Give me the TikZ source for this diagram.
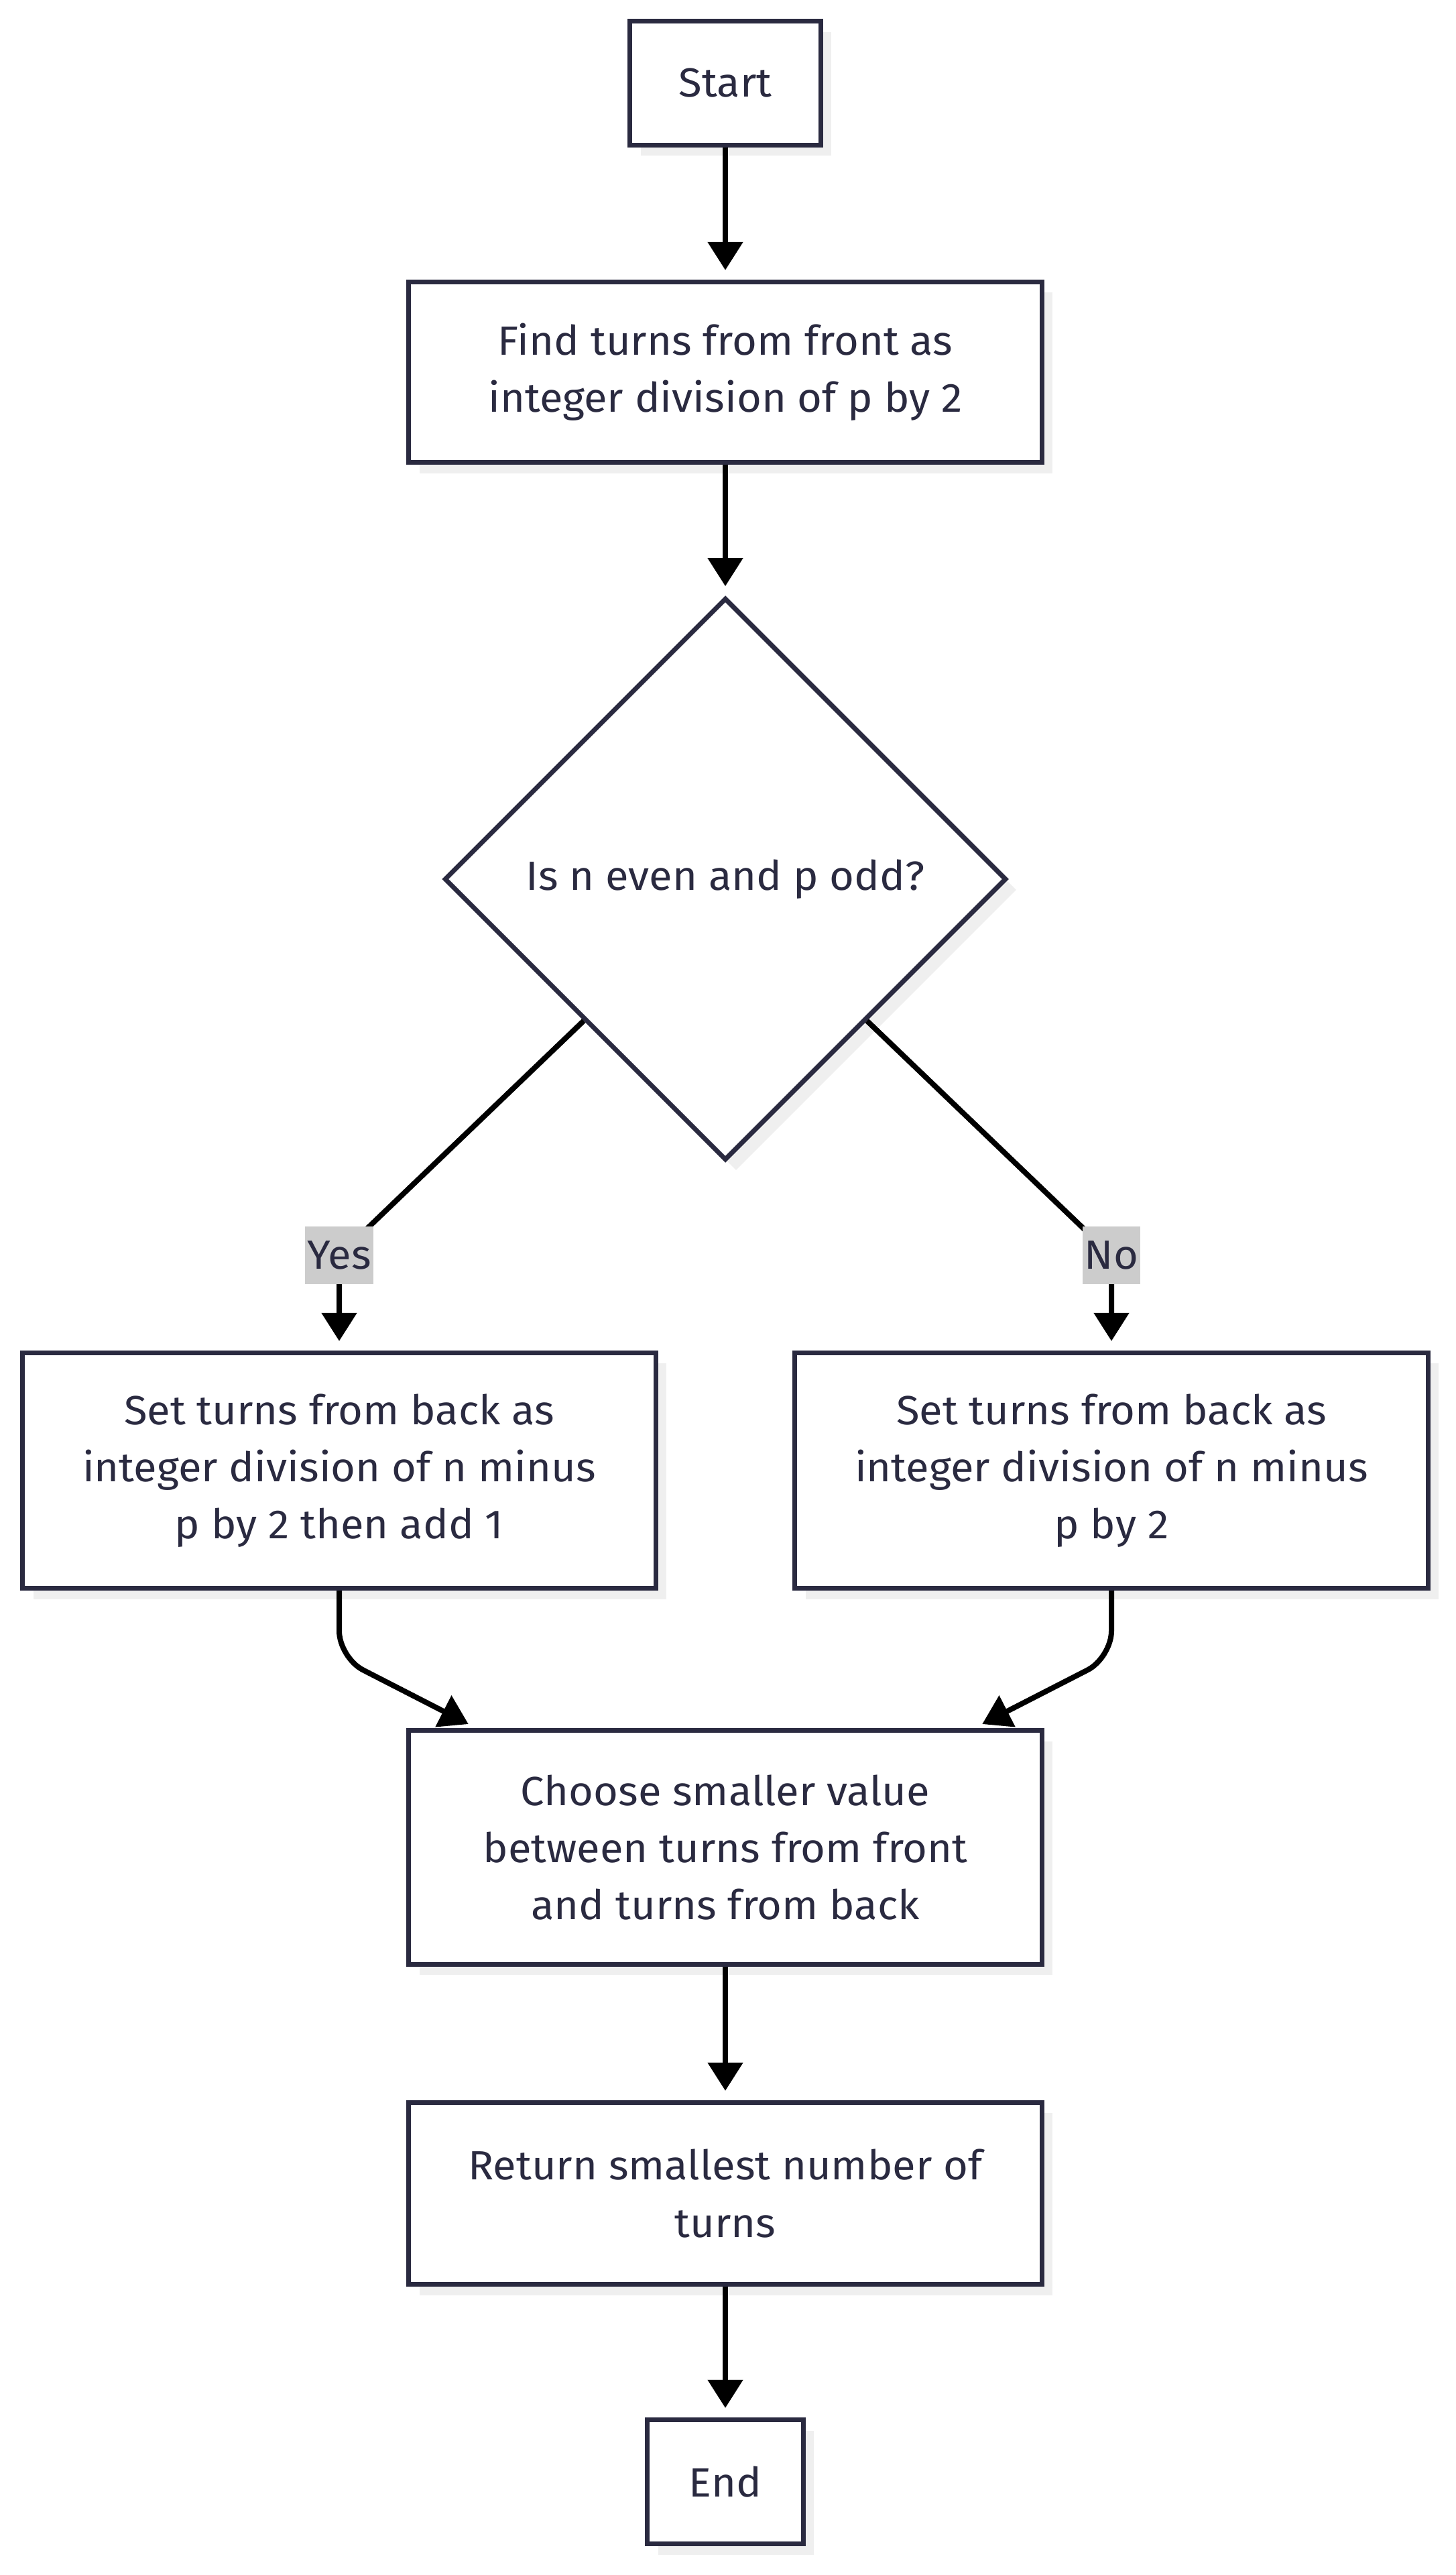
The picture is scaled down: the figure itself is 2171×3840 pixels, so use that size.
\documentclass[tikz,border=0pt]{standalone}
\usepackage{fontspec}
\setmainfont[FakeStretch=1.04]{Fira Sans}
\usepackage{tikz}
\usetikzlibrary{arrows.meta,shapes,shadows,calc}
\definecolor{ink}{RGB}{42,42,64}
\definecolor{lblgray}{HTML}{CCCCCC}
\definecolor{shade}{HTML}{EFEFEF}
\tikzset{
  shadowed/.style={drop shadow={shadow xshift=0.16cm, shadow yshift=-0.16cm, fill=shade, opacity=1}},
  box/.style={draw=ink, line width=0.07cm, fill=white, text=ink, align=center, inner sep=0pt, shadowed},
  decision/.style={diamond, aspect=1, draw=ink, line width=0.07cm, fill=white, text=ink, inner sep=0pt, shadowed},
  edge/.style={line width=0.08cm, -{Triangle[length=0.42cm, width=0.51cm]}, shorten >=0.14cm},
  lbl/.style={fill=lblgray, text=ink, inner xsep=0.03cm, inner ysep=0pt, minimum height=0.85cm},
}

\begin{document}
\begin{tikzpicture}[x=0.01cm, y=-0.01cm, every node/.style={font=\fontsize{17.3}{24.2}\selectfont}]
      \fill[white] (0,0) rectangle (2171,3840);
      \useasboundingbox (0,0) rectangle (2171,3840);

      \node[box] at (1082,124) [minimum width=2.84cm, minimum height=1.84cm] (start) {Start};
      \node[box] at (1082,555) [minimum width=9.44cm, minimum height=2.69cm] (front) {Find turns from front as\\integer division of p by 2};
      \node[decision] at (1082,1311) [minimum width=8.38cm, minimum height=8.38cm] (check) {Is n even and p odd?};
      \node[box] at (506,2193) [minimum width=9.44cm, minimum height=3.51cm] (backodd) {Set turns from back as\\integer division of n minus\\p by 2 then add 1};
      \node[box] at (1658,2193) [minimum width=9.44cm, minimum height=3.51cm] (backeven) {Set turns from back as\\integer division of n minus\\p by 2};
      \node[box] at (1082,2755) [minimum width=9.44cm, minimum height=3.48cm] (choose) {Choose smaller value\\between turns from front\\and turns from back};
      \node[box] at (1082,3271) [minimum width=9.44cm, minimum height=2.71cm] (ret) {Return smallest number of\\turns};
      \node[box] at (1082,3701) [minimum width=2.32cm, minimum height=1.85cm] (end) {End};

      \coordinate (ybend) at (506,1872);
      \coordinate (nbend) at (1658,1872);

      \draw[edge] (start) -- (front);
      \draw[edge] (front) -- (check);
      \draw[edge] (check.south west) -- (ybend) -- (backodd);
      \draw[edge] (check.south east) -- (nbend) -- (backeven);
      \draw[edge, rounded corners=0.4cm] (backodd.south) -- ++(0,100) -- ($(choose.north west)+(105,0)$);
      \draw[edge, rounded corners=0.4cm] (backeven.south) -- ++(0,100) -- ($(choose.north east)+(-105,0)$);
      \draw[edge] (choose) -- (ret);
      \draw[edge] (ret) -- (end);

      \node[lbl] at (ybend) (yes) {Yes};
      \node[lbl] at (nbend) (no) {No};
\end{tikzpicture}
\end{document}
